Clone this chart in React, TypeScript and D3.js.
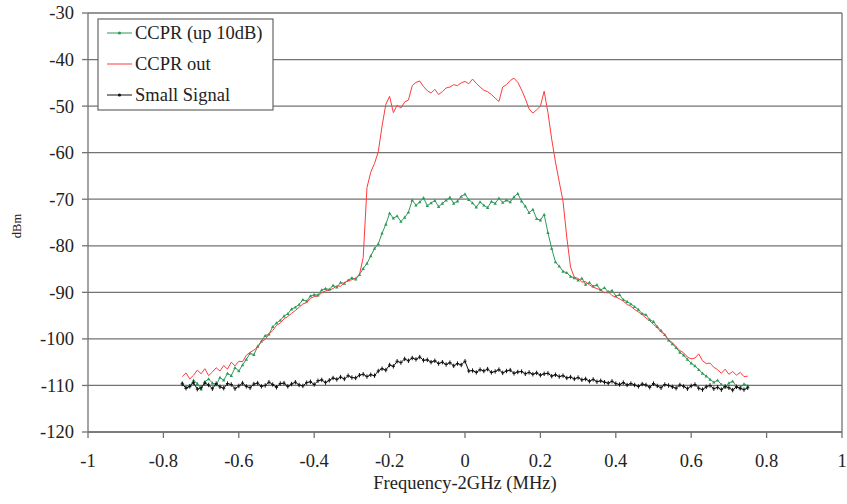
import React from "react";
import * as d3 from "d3";

const xStart = -0.75;
const xStep = 0.01;

const ccprUp10dB = [
  -109.4, -110.5, -110.1, -108.9, -109.6, -110.8, -109.2, -108.6, -109.5, -109.9,
  -108.3, -108.9, -107.4, -107.9, -106.2, -106.9, -105.6, -104.4, -103.1, -103.4,
  -101.6, -100.5, -99.3, -99.0, -97.4, -96.6, -96.0, -95.1, -94.6, -93.6,
  -93.2, -92.6, -91.6, -91.9, -90.8, -90.5, -90.6, -89.5, -89.2, -89.4,
  -88.5, -88.9, -87.9, -88.1, -87.4, -86.9, -87.2, -86.2, -84.9, -83.8,
  -82.2, -80.6, -79.6, -77.3, -75.4, -73.0, -74.1, -73.6, -74.8, -73.9,
  -72.8, -70.2, -71.3, -70.6, -69.7, -71.4, -70.8, -70.3, -71.6, -70.9,
  -70.2, -69.6, -70.9, -70.4, -69.4, -68.9, -70.1, -70.8, -71.7, -70.6,
  -71.3, -71.8, -70.5, -70.9, -69.8, -70.7, -70.2, -70.6, -69.5, -68.8,
  -70.4, -71.5, -72.9, -72.2, -74.2, -74.5, -73.3, -77.2, -80.6, -83.5,
  -84.4, -85.5, -85.8, -86.6, -86.9, -87.4, -87.0, -88.3, -87.9, -88.7,
  -88.4, -89.5, -89.0, -89.9, -89.6, -90.8, -90.5, -91.6, -92.0, -92.5,
  -93.1, -93.7, -94.6, -94.8, -95.9, -96.3, -97.4, -98.2, -99.1, -100.3,
  -101.1, -101.9, -102.9, -103.5, -104.4, -105.2, -105.8, -106.6, -107.4, -108.0,
  -108.7, -109.3, -108.9, -109.8, -110.4, -109.5, -109.1, -110.2, -110.6, -109.7,
  -110.1,
];

const ccprOut = [
  -108.1, -107.3, -108.6, -107.8, -106.7, -107.5, -106.4, -107.9, -107.1, -106.2,
  -106.9, -105.7, -106.5, -105.0, -105.8, -104.8, -104.9, -103.5, -102.9, -102.4,
  -101.8, -100.6, -100.1, -99.0, -98.2, -97.1, -96.6, -95.7, -95.2, -94.5,
  -93.9, -93.2, -92.5, -92.2, -91.3, -90.9, -90.8, -90.1, -89.7, -89.5,
  -89.2, -88.6, -88.7, -87.9, -87.5, -87.3, -86.9, -86.2, -82.5, -67.5,
  -64.2, -62.3, -59.8, -54.3, -49.6, -47.9, -51.4, -49.8, -50.4, -49.1,
  -48.7, -45.6, -44.9, -44.6, -45.8, -46.7, -47.2, -46.4, -47.5, -46.9,
  -46.1, -45.9, -45.4, -45.6, -45.0, -44.7, -45.2, -44.2, -45.1, -45.9,
  -46.6, -46.9, -47.5, -48.3, -49.0, -45.9, -45.4, -44.5, -44.0, -44.9,
  -46.5, -48.4, -50.6, -51.5, -50.8, -50.0, -46.8, -51.4, -57.1, -62.0,
  -66.3, -70.4, -78.2, -84.6, -86.8, -87.0, -87.8, -87.7, -88.4, -88.9,
  -89.2, -89.5, -90.1, -89.8, -90.7, -91.0, -91.4, -91.9, -92.6, -93.0,
  -93.7, -94.2, -94.8, -95.5, -96.1, -96.9, -97.6, -98.5, -99.1, -100.2,
  -100.8, -101.7, -102.5, -103.0, -103.9, -104.3, -104.1, -103.2, -104.7, -105.3,
  -105.2, -106.1, -106.6, -107.4, -106.5, -107.6, -107.0, -107.8, -107.2, -108.1,
  -108.0,
];

const smallSignal = [
  -109.7, -110.6, -110.2, -109.4, -110.8, -110.5, -109.5, -109.9, -110.7, -109.6,
  -110.3, -110.6, -109.6, -109.8, -110.7, -110.1, -109.5, -110.2, -110.5, -109.7,
  -109.5, -110.2, -110.0, -109.3, -109.8, -110.4, -109.6, -109.5, -110.2, -109.7,
  -109.3, -109.9, -110.1, -109.4, -109.2, -109.8, -109.0, -108.8, -109.4, -108.9,
  -108.4, -108.7, -108.2, -108.6, -107.9, -108.3, -108.4, -107.8, -107.6, -108.1,
  -107.7, -107.9, -106.9, -106.4, -106.7, -105.6, -105.9, -104.8, -105.1, -104.3,
  -104.7, -104.1, -104.4, -103.9, -104.6, -104.5, -105.0, -104.7, -105.3, -105.0,
  -105.5, -105.1, -105.8, -105.3, -105.6, -104.8, -106.9, -106.8, -107.2, -106.6,
  -106.9, -106.5, -107.2, -107.0, -106.6, -107.3, -106.9, -106.7, -107.4, -107.1,
  -107.0, -107.5, -107.2, -107.6, -107.3, -107.8, -107.5, -107.4, -108.0, -107.7,
  -108.1, -107.9, -108.4, -108.2, -108.6, -108.3, -108.8, -108.6, -109.1, -108.7,
  -109.2, -109.0, -109.3, -109.5, -109.1, -109.6, -109.8, -109.4, -109.9, -109.6,
  -109.9, -110.2, -109.7, -109.9, -110.4, -109.6, -110.1, -110.5, -109.8, -110.0,
  -110.3, -110.6, -109.9, -110.2, -110.7, -110.1, -109.8, -110.6, -110.9, -110.3,
  -110.0, -110.7, -110.4, -110.9, -110.2, -110.5, -111.0, -110.3, -110.6, -110.9,
  -110.5,
];

const xTicks = [-1, -0.8, -0.6, -0.4, -0.2, 0, 0.2, 0.4, 0.6, 0.8, 1];
const yTicks = [-30, -40, -50, -60, -70, -80, -90, -100, -110, -120];
const seriesNames = ["CCPR (up 10dB)", "CCPR out", "Small Signal"];
const xTitle = "Frequency-2GHz (MHz)";
const yTitle = "dBm";

const W = 847;
const H = 504;
const M = { left: 88, right: 5, top: 13, bottom: 72 };
const SERIF = "Liberation Serif";

export default function App() {
  const x = d3.scaleLinear().domain([-1, 1]).range([M.left, W - M.right]);
  const y = d3.scaleLinear().domain([-120, -30]).range([H - M.bottom, M.top]);

  const toPts = (vals: number[]) =>
    vals.map((v, i) => [xStart + i * xStep, v] as [number, number]);

  const line = d3
    .line<[number, number]>()
    .x((d) => x(d[0]))
    .y((d) => y(d[1]));

  const green = "#2f9a5a";
  const red = "#ff3b3b";
  const black = "#111";

  const series = [
    { name: seriesNames[2], vals: smallSignal, color: black, marker: "cross" },
    { name: seriesNames[0], vals: ccprUp10dB, color: green, marker: "tri" },
    { name: seriesNames[1], vals: ccprOut, color: red, marker: "none" },
  ];
  const drawOrder = [series[1], series[2], series[0]];

  const x0 = x(-1);
  const x1 = x(1);
  const yB = y(-120);
  const yT = y(-30);

  const legendItems = [
    { name: seriesNames[0], color: green, marker: "dot" },
    { name: seriesNames[1], color: red, marker: "none" },
    { name: seriesNames[2], color: black, marker: "dot" },
  ];

  const gridColor = "#737373";
  const FS = 18.5;

  return (
    <svg
      width={W}
      height={H}
      style={{ position: "absolute", left: 0, top: 0, background: "#fff" }}
    >
      {yTicks.map((t) => (
        <line key={t} x1={x0} x2={x1} y1={y(t)} y2={y(t)} stroke={gridColor} strokeWidth={1.3} />
      ))}
      <line x1={x1} x2={x1} y1={yT} y2={yB} stroke={gridColor} strokeWidth={1.3} />
      <line x1={x0} x2={x0} y1={yT} y2={yB} stroke={gridColor} strokeWidth={1.3} />
      <line x1={x0} x2={x1} y1={yB} y2={yB} stroke={gridColor} strokeWidth={1.3} />
      {yTicks.map((t) => (
        <g key={"yt" + t}>
          <line x1={x0 - 6} x2={x0} y1={y(t)} y2={y(t)} stroke={gridColor} strokeWidth={1.3} />
          <text
            x={x0 - 14}
            y={y(t)}
            dy="0.35em"
            textAnchor="end"
            fontSize={FS}
            fill="#222"
            fontFamily={SERIF}
          >
            {String(t)}
          </text>
        </g>
      ))}
      {xTicks.map((t) => (
        <g key={"xt" + t}>
          <line x1={x(t)} x2={x(t)} y1={yB} y2={yB + 6} stroke={gridColor} strokeWidth={1.3} />
          <text x={x(t)} y={467} textAnchor="middle" fontSize={FS} fill="#222" fontFamily={SERIF}>
            {String(t)}
          </text>
        </g>
      ))}
      <text x={465} y={489} textAnchor="middle" fontSize={FS} fill="#222" fontFamily={SERIF}>
        {xTitle}
      </text>
      <text
        transform={`translate(21,226) rotate(-90)`}
        textAnchor="middle"
        fontSize={12.5}
        fill="#222"
        fontFamily={SERIF}
      >
        {yTitle}
      </text>

      {drawOrder.map((s) => {
        const pts = toPts(s.vals);
        return (
          <g key={s.name}>
            <path d={line(pts) || ""} fill="none" stroke={s.color} strokeWidth={1} />
            {s.marker === "tri" &&
              pts.map((p, i) => {
                const cx = x(p[0]);
                const cy = y(p[1]);
                return (
                  <path
                    key={i}
                    d={`M${cx},${cy - 1.8}L${cx + 1.7},${cy + 1.3}L${cx - 1.7},${cy + 1.3}Z`}
                    fill={s.color}
                  />
                );
              })}
            {s.marker === "cross" &&
              pts.map((p, i) => (
                <path
                  key={i}
                  d={`M${x(p[0]) - 1.6},${y(p[1])}h3.2M${x(p[0])},${y(p[1]) - 2.2}v4.4`}
                  stroke={s.color}
                  strokeWidth={1}
                />
              ))}
          </g>
        );
      })}

      <rect x={98} y={19} width={175} height={91} fill="#fff" stroke="#666" strokeWidth={1.2} />
      {legendItems.map((it, i) => {
        const cy = 33 + i * 31;
        return (
          <g key={it.name}>
            <line x1={107} x2={132} y1={cy} y2={cy} stroke={it.color} strokeWidth={1} />
            {it.marker === "dot" && <circle cx={119.5} cy={cy} r={1.6} fill={it.color} />}
            <text x={135} y={cy} dy="0.35em" fontSize={FS} fill="#222" fontFamily={SERIF}>
              {it.name}
            </text>
          </g>
        );
      })}
    </svg>
  );
}
